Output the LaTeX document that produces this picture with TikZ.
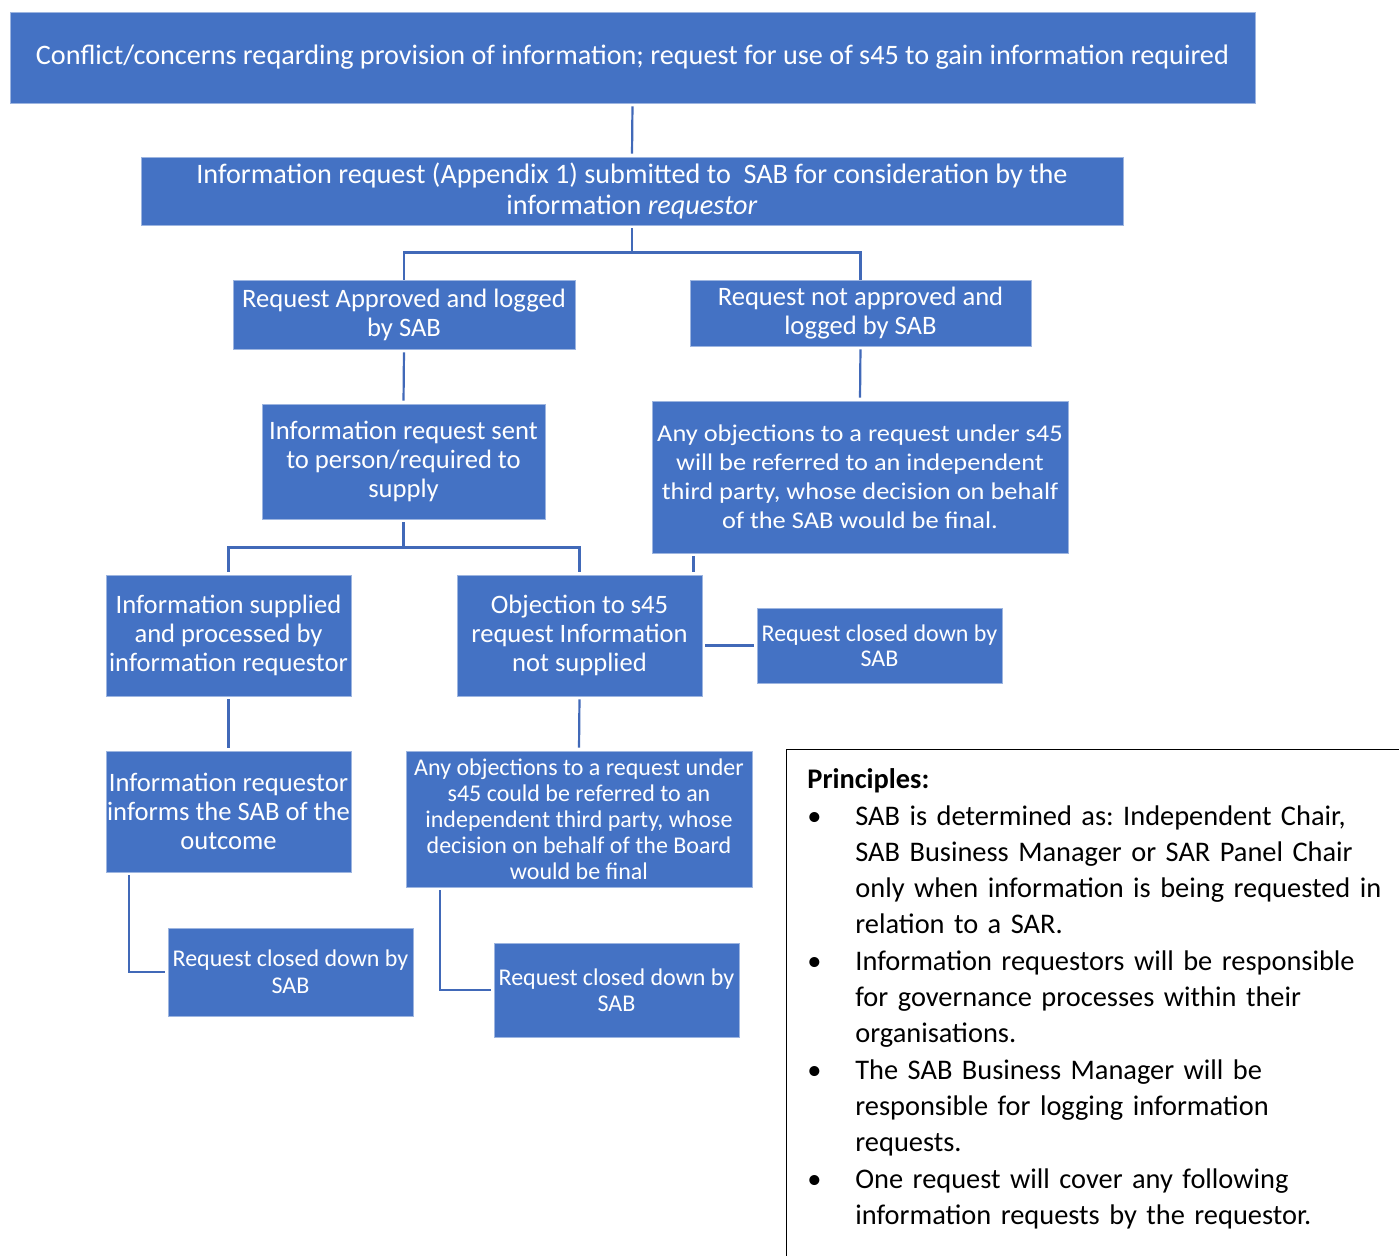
\documentclass[tikz,border=0pt]{standalone}
\usepackage{fontspec}
\setmainfont{Carlito}
\newfontfamily\widefont{Carlito}[FakeStretch=1.1]
\definecolor{boxblue}{HTML}{4472C4}
\definecolor{edgeblue}{HTML}{9DB5E0}
\definecolor{lineblue}{HTML}{4169B8}
\tikzset{
  box/.style={fill=boxblue, draw=edgeblue, line width=0.4pt, text=white,
    align=center, inner sep=0pt},
  link/.style={draw=lineblue, line width=1.1pt, shorten <=1.5pt, shorten >=1.5pt},
  frame/.style={draw=black, line width=0.7pt, inner sep=0pt, anchor=north west},
}
\newcommand{\princitem}[1]{\par\hangindent=24pt\hangafter=1\noindent\makebox[24pt][l]{\textbullet}#1\par}
\begin{document}
\begin{tikzpicture}[x=0.5pt,y=-0.5pt]
\useasboundingbox (0,0) rectangle (1399,1255);
% boxes of the flow
\node[box, minimum width=622.5pt, minimum height=45.5pt, font=\fontsize{14.1}{15.5}\selectfont] (conflict) at (632.5,57.5) {Conflict/concerns reqarding provision of information; request for use of s45 to gain information required};
\node[box, minimum width=491pt, minimum height=34pt, font=\fontsize{14.1}{15.5}\selectfont] (submit) at (632,191) {Information request (Appendix 1) submitted to\ \ SAB for consideration by the\\information \textit{requestor}};
\node[box, minimum width=171pt, minimum height=34.5pt, font=\fontsize{13.3}{14.5}\selectfont] (approved) at (404,314.5) {Request Approved and logged\\by SAB};
\node[box, minimum width=170.5pt, minimum height=33pt, font=\fontsize{13.3}{14.5}\selectfont] (refused) at (860.5,313) {Request not approved and\\logged by SAB};
\node[box, minimum width=141.5pt, minimum height=57.5pt, font=\fontsize{13.3}{14.5}\selectfont] (sent) at (403.5,461.5) {Information request sent\\to person/required to\\supply};
\node[box, minimum width=208pt, minimum height=76pt, font=\widefont\fontsize{12}{14.5}\selectfont] (thirdparty) at (860,477) {Any objections to a request under s45\\will be referred to an independent\\third party, whose decision on behalf\\of the SAB would be final.};
\node[box, minimum width=122.5pt, minimum height=60.5pt, font=\fontsize{13.3}{14.5}\selectfont] (supplied) at (228.5,635.5) {Information supplied\\and processed by\\information requestor};
\node[box, minimum width=122.5pt, minimum height=60.5pt, font=\fontsize{13.3}{14.5}\selectfont] (objection) at (579.5,635.5) {Objection to s45\\request Information\\not supplied};
\node[box, minimum width=122.5pt, minimum height=37.5pt, font=\fontsize{12}{12.5}\selectfont] (closedA) at (879.5,645.5) {Request closed down by\\SAB};
\node[box, minimum width=122.5pt, minimum height=60.5pt, font=\fontsize{13.3}{14.5}\selectfont] (informs) at (228.5,811.5) {Information requestor\\informs the SAB of the\\outcome};
\node[box, minimum width=173pt, minimum height=68pt, font=\fontsize{12}{13}\selectfont] (referred) at (579,819) {Any objections to a request under\\s45 could be referred to an\\independent third party, whose\\decision on behalf of the Board\\would be final};
\node[box, minimum width=122.5pt, minimum height=44pt, font=\fontsize{12}{13.5}\selectfont] (closedB) at (290.5,972) {Request closed down by\\SAB};
\node[box, minimum width=122.5pt, minimum height=47pt, font=\fontsize{12}{13}\selectfont] (closedC) at (616.5,990) {Request closed down by\\SAB};
% connectors
\draw[link] (conflict.south) -- (submit.north);
\draw[link, shorten >=0pt] (submit.south) -- ++(0,27) -| (approved.north);
\draw[link, shorten >=0pt] (submit.south) -- ++(0,27) -| (refused.north);
\draw[link] (approved.south) -- (sent.north);
\draw[link] (refused.south) -- (thirdparty.north);
\draw[link] (sent.south) -- ++(0,28) -| (supplied.north);
\draw[link] (sent.south) -- ++(0,28) -| (objection.north);
\draw[link] ([xshift=-4.5pt]objection.north east |- thirdparty.south) -- ([xshift=-4.5pt]objection.north east);
\draw[link] (objection.east |- closedA.west) -- (closedA.west);
\draw[link] (supplied.south) -- (informs.north);
\draw[link] (objection.south) -- (referred.north);
\draw[link] ([xshift=11.5pt]informs.south west) |- (closedB.west);
\draw[link] ([xshift=17pt]referred.south west) |- (closedC.west);
% principles
\node[frame, minimum width=320pt, minimum height=270pt] (princ) at (786,749) {};
\node[anchor=north west, inner sep=0pt, text width=300pt, align=left, font=\fontsize{14.2}{18}\selectfont] (princtext) at (807,768.5) {\raggedright\frenchspacing\parskip=0.5pt\textbf{Principles:}
\princitem{SAB is determined as: Independent Chair,\newline SAB Business Manager or SAR Panel Chair\newline only when information is being requested in\newline relation to a SAR.}
\princitem{Information requestors will be responsible\newline for governance processes within their\newline organisations.}
\princitem{The SAB Business Manager will be\newline responsible for logging information\newline requests.}
\princitem{One request will cover any following\newline information requests by the requestor.}};
\end{tikzpicture}
\end{document}
